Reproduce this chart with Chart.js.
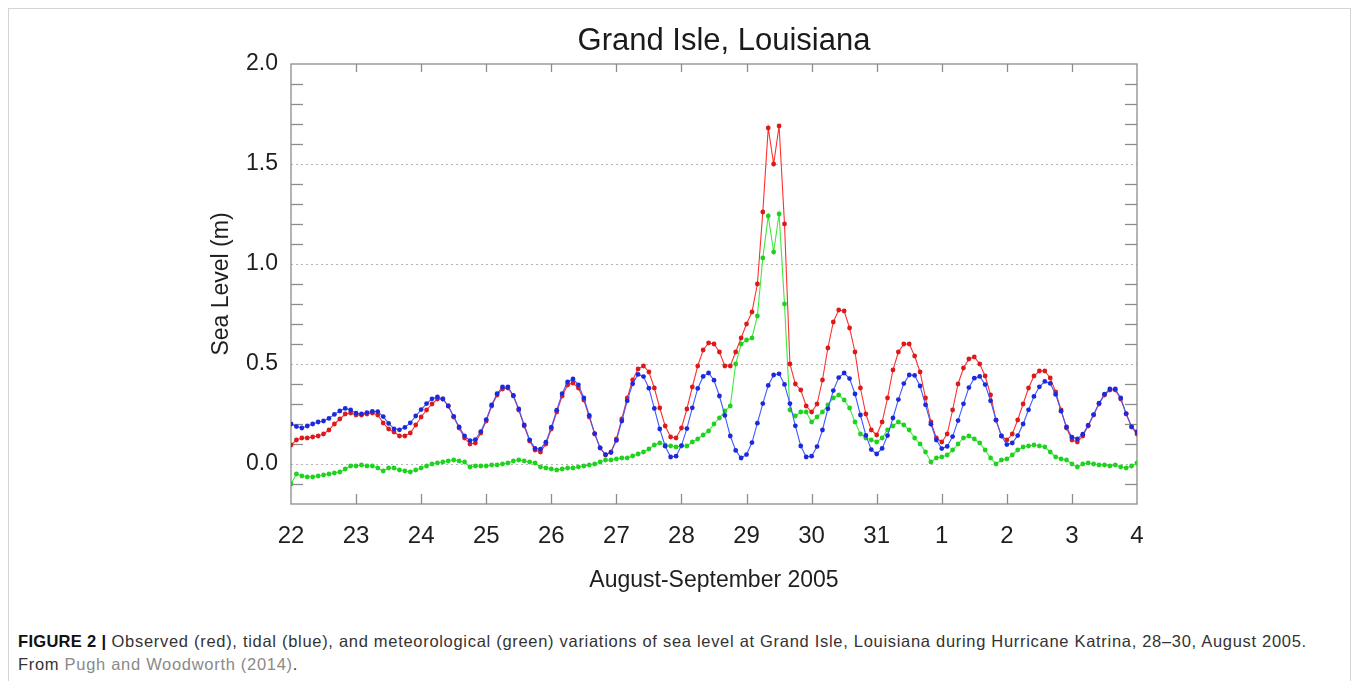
<!DOCTYPE html>
<html>
<head>
<meta charset="utf-8">
<script src="https://cdn.jsdelivr.net/npm/chart.js@4.4.1/dist/chart.umd.min.js"></script>
<style>
html, body { margin: 0; padding: 0; background: #fff; overflow: hidden; }
body { width: 1358px; height: 681px; position: relative; font-family: "Liberation Sans", Arial, sans-serif; }
.frame { position: absolute; left: 8px; top: 8px; width: 1341px; height: 700px; border: 1px solid #d4d4d4; }
#chart-wrap { position: absolute; left: 200px; top: 0; width: 1048px; height: 600px; }
.caption { position: absolute; left: 18px; top: 630px; font-size: 16.5px; letter-spacing: 0.7px; color: #333; line-height: 23px; white-space: nowrap; }
.caption b { color: #111; letter-spacing: 0.3px; }
.caption .ref { color: #8a8a8a; }
</style>
</head>
<body>
<div class="frame"></div>
<div id="chart-wrap"><canvas id="sea-level" width="1048" height="600"></canvas></div>
<div class="caption">
  <b>FIGURE 2 |</b> Observed (red), tidal (blue), and meteorological (green) variations of sea level at Grand Isle, Louisiana during Hurricane Katrina, 28–30, August 2005.<br>
  From <span class="ref">Pugh and Woodworth (2014)</span>.
</div>
<script>
// ── 数据：2 小时一个采样，从 8 月 22 日 00:00 开始 ──────────────
const DAY_LABELS = ['22', '23', '24', '25', '26', '27', '28', '29', '30', '31', '1', '2', '3', '4'];
const Y_TICKS = [0, 0.5, 1.0, 1.5, 2.0];
const GRID_LEVELS = [0, 0.5, 1.0, 1.5];
const STEP_DAYS = 2 / 24;

// 观测 (红)
const observed = [
    0.095, 0.12, 0.13, 0.13, 0.135, 0.14, 0.15, 0.17, 0.20, 0.225, 0.25, 0.255,
    0.245, 0.245, 0.25, 0.255, 0.245, 0.205, 0.175, 0.16, 0.14, 0.14, 0.155, 0.195,
    0.235, 0.27, 0.30, 0.325, 0.325, 0.29, 0.235, 0.18, 0.13, 0.10, 0.105, 0.155,
    0.215, 0.29, 0.345, 0.375, 0.38, 0.34, 0.27, 0.19, 0.115, 0.07, 0.06, 0.10,
    0.175, 0.26, 0.34, 0.395, 0.405, 0.38, 0.32, 0.235, 0.15, 0.08, 0.045, 0.06,
    0.125, 0.225, 0.33, 0.42, 0.475, 0.49, 0.46, 0.38, 0.28, 0.19, 0.135, 0.13,
    0.18, 0.275, 0.385, 0.49, 0.57, 0.605, 0.60, 0.56, 0.49, 0.49, 0.56, 0.63,
    0.70, 0.76, 0.90, 1.26, 1.68, 1.50, 1.69, 1.20, 0.50, 0.40, 0.37, 0.29,
    0.26, 0.30, 0.42, 0.58, 0.71, 0.77, 0.765, 0.68, 0.56, 0.38, 0.25, 0.17,
    0.145, 0.21, 0.33, 0.47, 0.56, 0.60, 0.60, 0.54, 0.46, 0.33, 0.21, 0.13,
    0.11, 0.15, 0.27, 0.40, 0.48, 0.525, 0.535, 0.50, 0.44, 0.345, 0.22, 0.14,
    0.12, 0.15, 0.22, 0.30, 0.38, 0.44, 0.465, 0.465, 0.43, 0.36, 0.27, 0.18,
    0.12, 0.11, 0.14, 0.19, 0.245, 0.30, 0.345, 0.37, 0.37, 0.325, 0.25, 0.185,
    0.15
];

// 天文潮 (蓝)
const tidal = [
    0.20, 0.187, 0.18, 0.19, 0.20, 0.21, 0.215, 0.228, 0.248, 0.265, 0.278, 0.27,
    0.254, 0.25, 0.257, 0.263, 0.262, 0.237, 0.203, 0.176, 0.171, 0.183, 0.206, 0.24,
    0.272, 0.302, 0.326, 0.335, 0.325, 0.29, 0.238, 0.185, 0.141, 0.117, 0.122, 0.162,
    0.222, 0.295, 0.352, 0.385, 0.385, 0.343, 0.275, 0.195, 0.121, 0.078, 0.074, 0.109,
    0.184, 0.269, 0.352, 0.41, 0.425, 0.396, 0.33, 0.243, 0.152, 0.081, 0.047, 0.057,
    0.118, 0.215, 0.316, 0.401, 0.448, 0.437, 0.379, 0.278, 0.175, 0.089, 0.035, 0.039,
    0.092, 0.177, 0.281, 0.378, 0.438, 0.455, 0.419, 0.34, 0.243, 0.14, 0.068, 0.03,
    0.047, 0.107, 0.204, 0.302, 0.393, 0.445, 0.451, 0.398, 0.302, 0.191, 0.09, 0.035,
    0.039, 0.087, 0.17, 0.276, 0.367, 0.432, 0.455, 0.427, 0.35, 0.245, 0.143, 0.072,
    0.05, 0.078, 0.142, 0.23, 0.322, 0.402, 0.445, 0.443, 0.39, 0.296, 0.199, 0.12,
    0.077, 0.088, 0.137, 0.217, 0.301, 0.382, 0.429, 0.438, 0.397, 0.316, 0.219, 0.14,
    0.097, 0.105, 0.142, 0.20, 0.271, 0.338, 0.386, 0.413, 0.403, 0.348, 0.264, 0.185,
    0.134, 0.126, 0.149, 0.194, 0.247, 0.304, 0.349, 0.375, 0.375, 0.33, 0.252, 0.186,
    0.16
];

// 气象增水 (绿)
const meteorological = [
    -0.10, -0.05, -0.06, -0.065, -0.065, -0.06, -0.055, -0.05, -0.045, -0.04, -0.025, -0.01,
    -0.01, -0.005, -0.01, -0.01, -0.02, -0.035, -0.02, -0.02, -0.03, -0.035, -0.04, -0.03,
    -0.02, -0.01, 0.0, 0.005, 0.01, 0.015, 0.02, 0.015, 0.01, -0.015, -0.01, -0.01,
    -0.01, -0.005, -0.005, 0.0, 0.005, 0.015, 0.02, 0.015, 0.01, 0.005, -0.015, -0.02,
    -0.025, -0.03, -0.025, -0.02, -0.02, -0.015, -0.01, -0.005, 0.0, 0.01, 0.02, 0.02,
    0.025, 0.03, 0.03, 0.04, 0.05, 0.06, 0.075, 0.095, 0.105, 0.095, 0.09, 0.085,
    0.09, 0.09, 0.11, 0.125, 0.145, 0.165, 0.20, 0.23, 0.265, 0.29, 0.50, 0.60,
    0.62, 0.63, 0.74, 1.03, 1.24, 1.06, 1.25, 0.80, 0.27, 0.24, 0.26, 0.26,
    0.21, 0.235, 0.26, 0.295, 0.33, 0.345, 0.32, 0.28, 0.21, 0.15, 0.13, 0.12,
    0.11, 0.13, 0.17, 0.19, 0.21, 0.195, 0.17, 0.13, 0.10, 0.06, 0.01, 0.03,
    0.035, 0.045, 0.07, 0.10, 0.13, 0.14, 0.125, 0.105, 0.07, 0.03, 0.0, 0.02,
    0.025, 0.045, 0.07, 0.085, 0.09, 0.095, 0.09, 0.085, 0.06, 0.035, 0.025, 0.02,
    0.0, -0.015, 0.0, 0.005, 0.0, -0.005, -0.005, -0.01, -0.005, -0.015, -0.02, -0.01,
    0.005
];

const toPoints = arr => arr.map((v, i) => ({ x: i * STEP_DAYS, y: v }));

// ── 坐标框、向内刻度、虚线网格 ──────────────────────
const axesFrame = {
    id: 'axesFrame',
    beforeDatasetsDraw(chart) {
        const { ctx, chartArea: a, scales: { x, y } } = chart;
        const seg = (x1, y1, x2, y2) => {
            ctx.beginPath();
            ctx.moveTo(x1, y1);
            ctx.lineTo(x2, y2);
            ctx.stroke();
        };
        ctx.save();
        ctx.strokeStyle = '#b4b4b4';
        ctx.lineWidth = 1;
        ctx.setLineDash([2, 3]);
        GRID_LEVELS.forEach(v => {
            const py = Math.round(y.getPixelForValue(v)) + 0.5;
            seg(a.left, py, a.right, py);
        });
        ctx.setLineDash([]);
        ctx.strokeStyle = '#8c8c8c';
        ctx.lineWidth = 1.3;
        ctx.strokeRect(a.left, a.top, a.right - a.left, a.bottom - a.top);
        // 日刻度：下 10px，上 8px
        for (let d = 1; d < DAY_LABELS.length - 1; d++) {
            const px = Math.round(x.getPixelForValue(d)) + 0.5;
            seg(px, a.bottom, px, a.bottom - 10);
            seg(px, a.top, px, a.top + 8);
        }
        // 0.1 m 小刻度，左右两侧
        for (let i = -1; i < 20; i++) {
            if (i % 5 === 0) continue;
            const py = Math.round(y.getPixelForValue(i / 10)) + 0.5;
            seg(a.left, py, a.left + 12, py);
            seg(a.right, py, a.right - 12, py);
        }
        ctx.restore();
    }
};

Chart.defaults.font.family = '"Liberation Sans", Arial, Helvetica, sans-serif';
Chart.defaults.color = '#1e1e1e';

const series = (label, values, line, dot) => ({
    label,
    data: toPoints(values),
    borderColor: line,
    borderWidth: 1.1,
    pointRadius: 2.4,
    pointBorderWidth: 0,
    pointBackgroundColor: dot,
    tension: 0,
});

new Chart(document.getElementById('sea-level').getContext('2d'), {
    type: 'line',
    data: {
        datasets: [
            series('Tidal', tidal, '#4058ff', '#1b2bdc'),
            series('Observed', observed, '#ff3030', '#dd1a1a'),
            series('Meteorological', meteorological, '#3dea3d', '#1fd21f'),
        ]
    },
    options: {
        responsive: false,
        animation: false,
        layout: { padding: 0 },
        plugins: {
            legend: { display: false },
            tooltip: { enabled: false },
            title: {
                display: true,
                text: 'Grand Isle, Louisiana',
                color: '#1a1a1a',
                font: { size: 31, weight: 'normal', lineHeight: 1 },
                padding: { top: 26, bottom: 7 },
            },
        },
        scales: {
            x: {
                type: 'linear',
                min: 0,
                max: DAY_LABELS.length - 1,
                afterBuildTicks: s => { s.ticks = DAY_LABELS.map((_, i) => ({ value: i })); },
                afterFit: s => { s.height = 96; },
                ticks: {
                    callback: (v, i) => DAY_LABELS[i],
                    font: { size: 24 },
                    padding: 10,
                    maxRotation: 0,
                    autoSkip: false,
                },
                grid: { display: false },
                border: { display: false },
                title: {
                    display: true,
                    text: 'August-September 2005',
                    font: { size: 23 },
                    padding: { top: 0, bottom: 6 },
                },
            },
            y: {
                min: -0.2,
                max: 2.0,
                afterBuildTicks: s => { s.ticks = Y_TICKS.map(v => ({ value: v })); },
                afterFit: s => { s.width = 91; },
                ticks: {
                    callback: v => v.toFixed(1),
                    font: { size: 23 },
                    padding: 5,
                },
                grid: { display: false },
                border: { display: false },
                title: {
                    display: true,
                    text: 'Sea Level (m)',
                    font: { size: 23 },
                    padding: { top: 8, bottom: 0 },
                },
            },
            // 右侧占位轴，让标题落在图框中心偏右的位置
            yRight: {
                position: 'right',
                min: -0.2,
                max: 2.0,
                afterFit: s => { s.width = 111; },
                ticks: { display: false },
                grid: { display: false },
                border: { display: false },
            },
        }
    },
    plugins: [axesFrame]
});
</script>
</body>
</html>
